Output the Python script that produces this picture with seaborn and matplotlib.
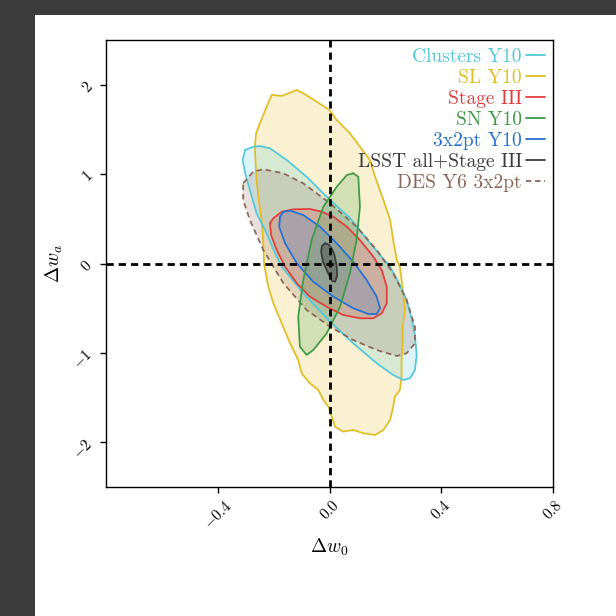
import numpy as np
import pandas as pd
import matplotlib
matplotlib.use("Agg")
import matplotlib.pyplot as plt
import seaborn as sns
from matplotlib.lines import Line2D
from matplotlib.patches import Rectangle

# 68% contour outlines in the (w0, wa) plane
sl_w0 = [-0.207, -0.171, -0.141, -0.117, -0.094, -0.046, 0.0, 0.026, 0.073, 0.109,
         0.145, 0.163, 0.193, 0.217, 0.228, 0.241, 0.252, 0.258, 0.264, 0.270,
         0.262, 0.262, 0.258, 0.258, 0.252, 0.234, 0.228, 0.217, 0.193, 0.163,
         0.121, 0.085, 0.049, 0.020, 0.008, -0.004, -0.022, -0.040, -0.070, -0.100,
         -0.112, -0.141, -0.171, -0.201, -0.219, -0.234, -0.237, -0.243, -0.255, -0.263,
         -0.267, -0.263, -0.249, -0.225]
sl_wa = [1.885, 1.874, 1.911, 1.941, 1.904, 1.810, 1.717, 1.605, 1.456, 1.306,
         1.158, 0.971, 0.710, 0.487, 0.263, 0.039, -0.036, -0.185, -0.333, -0.520,
         -0.707, -0.893, -1.079, -1.266, -1.415, -1.490, -1.602, -1.751, -1.862, -1.918,
         -1.899, -1.862, -1.881, -1.826, -1.714, -1.602, -1.527, -1.415, -1.340, -1.228,
         -1.079, -0.893, -0.669, -0.445, -0.260, -0.017, 0.226, 0.487, 0.747, 1.009,
         1.306, 1.456, 1.568, 1.754]

cl_w0 = [-0.302, -0.273, -0.249, -0.213, -0.153, -0.082, 0.002, 0.073, 0.145, 0.217,
         0.252, 0.276, 0.295, 0.306, 0.312, 0.306, 0.288, 0.264, 0.228, 0.169,
         0.085, 0.002, -0.094, -0.171, -0.195, -0.225, -0.261, -0.285, -0.302, -0.311]
cl_wa = [1.270, 1.306, 1.314, 1.289, 1.158, 0.971, 0.710, 0.509, 0.229, -0.036,
         -0.240, -0.408, -0.632, -0.811, -1.023, -1.191, -1.284, -1.303, -1.247, -1.116,
         -0.893, -0.651, -0.333, -0.036, 0.114, 0.338, 0.562, 0.822, 1.009, 1.158]

des_w0 = [-0.309, -0.273, -0.237, -0.165, -0.094, 0.002, 0.097, 0.169, 0.228, 0.276,
          0.306, 0.306, 0.276, 0.241, 0.169, 0.085, 0.002, -0.082, -0.165, -0.237,
          -0.285, -0.309]
des_wa = [0.897, 1.027, 1.054, 1.009, 0.897, 0.673, 0.412, 0.151, -0.110, -0.408,
          -0.707, -0.893, -1.004, -1.035, -0.968, -0.856, -0.707, -0.520, -0.221, 0.151,
          0.487, 0.710]

s3_w0 = [-0.213, -0.201, -0.171, -0.130, -0.070, -0.028, 0.014, 0.062, 0.109, 0.157,
         0.187, 0.205, 0.205, 0.187, 0.157, 0.109, 0.049, -0.010, -0.070, -0.117,
         -0.159, -0.189, -0.209]
s3_wa = [0.450, 0.506, 0.579, 0.606, 0.610, 0.579, 0.523, 0.412, 0.263, 0.076,
         -0.073, -0.260, -0.445, -0.557, -0.613, -0.613, -0.576, -0.483, -0.371, -0.221,
         -0.036, 0.151, 0.319]

x2_w0 = [-0.177, -0.165, -0.141, -0.094, -0.034, 0.026, 0.085, 0.133, 0.169, 0.181,
         0.169, 0.139, 0.085, 0.014, -0.058, -0.117, -0.159, -0.180]
x2_wa = [0.523, 0.579, 0.591, 0.543, 0.412, 0.226, 0.020, -0.185, -0.371, -0.501,
         -0.565, -0.565, -0.501, -0.371, -0.204, 0.002, 0.226, 0.412]

sn_w0 = [0.085, 0.103, 0.109, 0.097, 0.073, 0.038, -0.010, -0.058, -0.082, -0.106,
         -0.112, -0.094, -0.064, -0.022, 0.026, 0.062]
sn_wa = [1.009, 0.971, 0.635, 0.263, -0.110, -0.483, -0.781, -0.968, -1.023, -0.931,
         -0.595, -0.185, 0.263, 0.635, 0.859, 0.990]

lsst_w0 = [-0.016, -0.004, 0.008, 0.018, 0.026, 0.027, 0.020, 0.009, -0.007, -0.023,
           -0.030, -0.027]
lsst_wa = [0.226, 0.213, 0.170, 0.095, -0.036, -0.140, -0.204, -0.196, -0.095, 0.017,
           0.132, 0.196]

# drawing order (bottom to top)
probes = ["SL Y10", "Clusters Y10", "DES Y6 3x2pt", "Stage III", "3x2pt Y10",
          "SN Y10", "LSST all+Stage III"]
contours = {
    "SL Y10": (sl_w0, sl_wa),
    "Clusters Y10": (cl_w0, cl_wa),
    "DES Y6 3x2pt": (des_w0, des_wa),
    "Stage III": (s3_w0, s3_wa),
    "3x2pt Y10": (x2_w0, x2_wa),
    "SN Y10": (sn_w0, sn_wa),
    "LSST all+Stage III": (lsst_w0, lsst_wa),
}
colors = {
    "Clusters Y10": "#52c8da",
    "SL Y10": "#e2bd22",
    "Stage III": "#e03c3c",
    "SN Y10": "#3c9a44",
    "3x2pt Y10": "#2470d2",
    "LSST all+Stage III": "#3a3a3a",
    "DES Y6 3x2pt": "#8a6656",
}
legend_order = ["Clusters Y10", "SL Y10", "Stage III", "SN Y10", "3x2pt Y10",
                "LSST all+Stage III", "DES Y6 3x2pt"]

sns.set_style("ticks")
plt.rcParams["font.family"] = ["cmr10", "DejaVu Serif"]
plt.rcParams["mathtext.fontset"] = "cm"
plt.rcParams["axes.formatter.use_mathtext"] = True
plt.rcParams["axes.unicode_minus"] = True

fig = plt.figure(figsize=(6.16, 6.16), dpi=100, facecolor="#3b3b3b")
fig.patches.append(Rectangle((35 / 616, 0), 1 - 35 / 616, 601 / 616,
                             transform=fig.transFigure, facecolor="white",
                             edgecolor="none", zorder=-10))
ax = fig.add_axes([106 / 616, 129 / 616, 447 / 616, 447 / 616])
ax.set_facecolor("white")

for name in probes:
    w0, wa = contours[name]
    df = pd.DataFrame({"w0": w0 + w0[:1], "wa": wa + wa[:1]})
    alpha = 0.4 if name == "LSST all+Stage III" else 0.2
    ax.fill(df["w0"], df["wa"], color=colors[name], alpha=alpha, lw=0, zorder=2)
    ls = (0, (3.2, 2.2)) if name == "DES Y6 3x2pt" else "-"
    sns.lineplot(data=df, x="w0", y="wa", sort=False, estimator=None,
                 color=colors[name], lw=1.25, linestyle=ls, ax=ax, zorder=3)

ax.axvline(0, color="black", lw=2, linestyle=(0, (2.6, 1.8)), zorder=4)
ax.axhline(0, color="black", lw=2, linestyle=(0, (2.6, 1.8)), zorder=4)

ax.set_xlim(-0.8, 0.8)
ax.set_ylim(-2.5, 2.5)
ax.set_xticks([-0.4, 0.0, 0.4, 0.8])
ax.set_yticks([-2, -1, 0, 1, 2])
ax.tick_params(axis="both", labelsize=11, length=4, width=1, color="black",
               labelcolor="black", direction="out")
for lab in ax.get_xticklabels():
    lab.set_rotation(45)
for lab in ax.get_yticklabels():
    lab.set_rotation(45)
for sp in ax.spines.values():
    sp.set_color("black")
    sp.set_linewidth(1)

ax.set_xlabel(r"$\Delta w_0$", fontsize=14, color="black")
ax.set_ylabel(r"$\Delta w_a$", fontsize=14, color="black")

handles = [Line2D([], [], color=colors[n], lw=1.3,
                  linestyle=(0, (3, 2)) if n == "DES Y6 3x2pt" else "-")
           for n in legend_order]
ax.legend(handles, legend_order, loc="upper right", frameon=False, markerfirst=False,
          handlelength=1.0, handletextpad=0.2, labelspacing=0.16, fontsize=14,
          labelcolor="linecolor", borderaxespad=0.2, borderpad=0.2)

fig.savefig("out.png", dpi=100, facecolor=fig.get_facecolor())
